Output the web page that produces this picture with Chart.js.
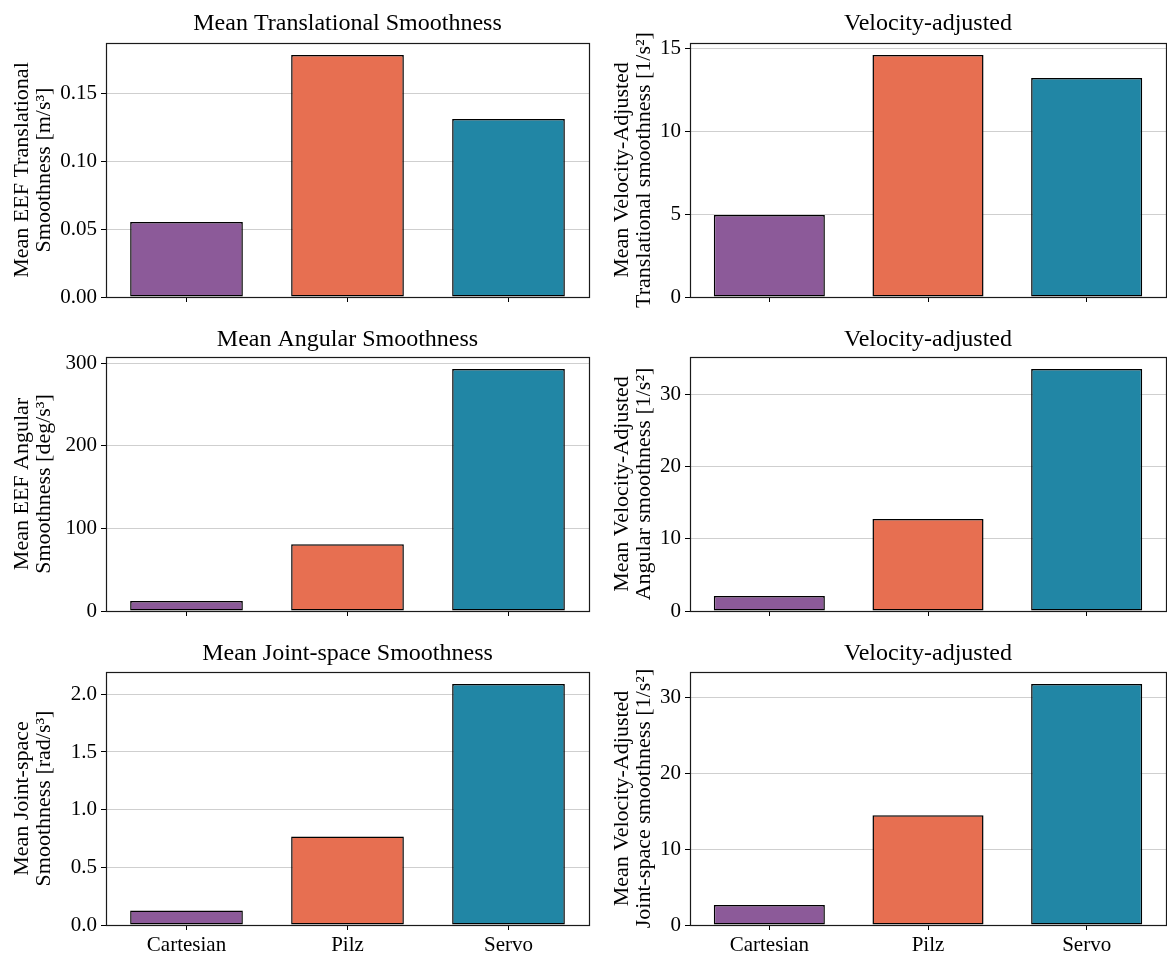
<!DOCTYPE html>
<html>
<head>
<meta charset="utf-8">
<script src="https://cdn.jsdelivr.net/npm/chart.js@4.4.1/dist/chart.umd.min.js"></script>
<style>
    html, body { margin: 0; padding: 0; background: #fff; overflow: hidden; }
    #figure { position: relative; width: 1167px; height: 954px; overflow: hidden; }
    #figure canvas { position: absolute; }
</style>
</head>
<body>
<div id="figure"></div>
<script>
// Categories and bar colours
const categories = ['Cartesian', 'Pilz', 'Servo'];
const barColors = ['#8c5a99', '#e76f51', '#2186a5'];

// Values
const translationalValues = [0.0554, 0.1787, 0.1315];
const translationalVelAdjValues = [4.94, 14.58, 13.2];
const angularValues = [12.1, 80.7, 293];
const angularVelAdjValues = [2.08, 12.74, 33.5];
const jointValues = [0.126, 0.767, 2.089];
const jointVelAdjValues = [2.63, 14.47, 31.75];

// Y tick values per panel
const translationalTicks = [0, 0.05, 0.10, 0.15];
const translationalVelAdjTicks = [0, 5, 10, 15];
const angularTicks = [0, 100, 200, 300];
const angularVelAdjTicks = [0, 10, 20, 30];
const jointTicks = [0, 0.5, 1.0, 1.5, 2.0];
const jointVelAdjTicks = [0, 10, 20, 30];
const yTickDecimals = [2, 0, 0, 0, 1, 0];

// Titles and axis labels
const panelTitles = [
    'Mean Translational Smoothness', 'Velocity-adjusted',
    'Mean Angular Smoothness', 'Velocity-adjusted',
    'Mean Joint-space Smoothness', 'Velocity-adjusted'
];
const yAxisLabels = [
    ['Mean EEF Translational', 'Smoothness [m/s³]'],
    ['Mean Velocity-Adjusted', 'Translational smoothness [1/s²]'],
    ['Mean EEF Angular', 'Smoothness [deg/s³]'],
    ['Mean Velocity-Adjusted', 'Angular smoothness [1/s²]'],
    ['Mean Joint-space', 'Smoothness [rad/s³]'],
    ['Mean Velocity-Adjusted', 'Joint-space smoothness [1/s²]']
];

const panelValues = [
    translationalValues, translationalVelAdjValues,
    angularValues, angularVelAdjValues,
    jointValues, jointVelAdjValues
];
const panelTicks = [
    translationalTicks, translationalVelAdjTicks,
    angularTicks, angularVelAdjTicks,
    jointTicks, jointVelAdjTicks
];

// Grid layout (pixels)
const rowTop = [0, 315, 630];
const rowHeight = [315, 315, 324];
const titlePadTop = [9.6, 10.6, 9.6];
const titlePadBottom = [4.6, 2.6, 3.6];
const xAxisHeight = [18, 19, 29];
const colLeft = [0, 600];
const colWidth = [600, 567];
const yAxisWidth = [106, 90];
const padRight = [11, 1];

const FONT = 'Liberation Serif, Times New Roman, serif';

// Draws the four matplotlib-style spines on top of the bars
const framePlugin = {
    id: 'frame',
    afterDatasetsDraw(chart) {
        const {ctx, chartArea: a} = chart;
        ctx.save();
        ctx.strokeStyle = '#1a1a1a';
        ctx.lineWidth = 1.2;
        ctx.strokeRect(Math.round(a.left) + 0.5, Math.round(a.top) + 0.5,
            Math.round(a.right - a.left), Math.round(a.bottom - a.top));
        ctx.restore();
    }
};

const figure = document.getElementById('figure');

panelValues.forEach((values, i) => {
    const row = Math.floor(i / 2);
    const col = i % 2;
    const tickValues = panelTicks[i];
    const decimals = yTickDecimals[i];

    const canvas = document.createElement('canvas');
    canvas.width = colWidth[col];
    canvas.height = rowHeight[row];
    canvas.style.left = colLeft[col] + 'px';
    canvas.style.top = rowTop[row] + 'px';
    canvas.style.width = colWidth[col] + 'px';
    canvas.style.height = rowHeight[row] + 'px';
    figure.appendChild(canvas);

    new Chart(canvas, {
        type: 'bar',
        data: {
            labels: categories,
            datasets: [{
                data: values,
                backgroundColor: barColors,
                borderColor: '#000',
                borderWidth: 1.5,
                borderSkipped: false,
                barPercentage: 0.7,
                categoryPercentage: 1.0
            }]
        },
        options: {
            responsive: false,
            animation: false,
            devicePixelRatio: 1,
            layout: {
                autoPadding: false,
                padding: {left: 0, right: padRight[col], top: 0, bottom: 0}
            },
            plugins: {
                legend: {display: false},
                tooltip: {enabled: false},
                title: {
                    display: true,
                    fullSize: false,
                    text: panelTitles[i],
                    color: '#000',
                    font: {family: FONT, size: 24, weight: 'normal', lineHeight: 1.2},
                    padding: {top: titlePadTop[row], bottom: titlePadBottom[row]}
                }
            },
            scales: {
                x: {
                    offset: true,
                    grid: {
                        offset: false,
                        drawOnChartArea: false,
                        drawTicks: true,
                        tickLength: 5,
                        tickColor: '#000',
                        tickWidth: 1
                    },
                    border: {display: false},
                    ticks: {
                        display: row === 2,
                        color: '#000',
                        padding: 3,
                        font: {family: FONT, size: 21}
                    },
                    afterFit: scale => { scale.height = xAxisHeight[row]; }
                },
                y: {
                    min: 0,
                    max: Math.max(...values) * 1.05,
                    grid: {
                        color: '#cfcfcf',
                        lineWidth: 1,
                        drawTicks: true,
                        tickLength: 5,
                        tickColor: '#000',
                        tickWidth: 1
                    },
                    border: {display: false},
                    ticks: {
                        autoSkip: false,
                        color: '#000',
                        padding: 4,
                        font: {family: FONT, size: 21},
                        callback: v => Number(v).toFixed(decimals)
                    },
                    afterBuildTicks: scale => {
                        scale.ticks = tickValues.map(v => ({value: v}));
                    },
                    title: {
                        display: true,
                        text: yAxisLabels[i],
                        color: '#000',
                        font: {family: FONT, size: 22, lineHeight: 1.0},
                        padding: {top: 11, bottom: 0}
                    },
                    afterFit: scale => { scale.width = yAxisWidth[col]; }
                }
            }
        },
        plugins: [framePlugin]
    });
});
</script>
</body>
</html>
